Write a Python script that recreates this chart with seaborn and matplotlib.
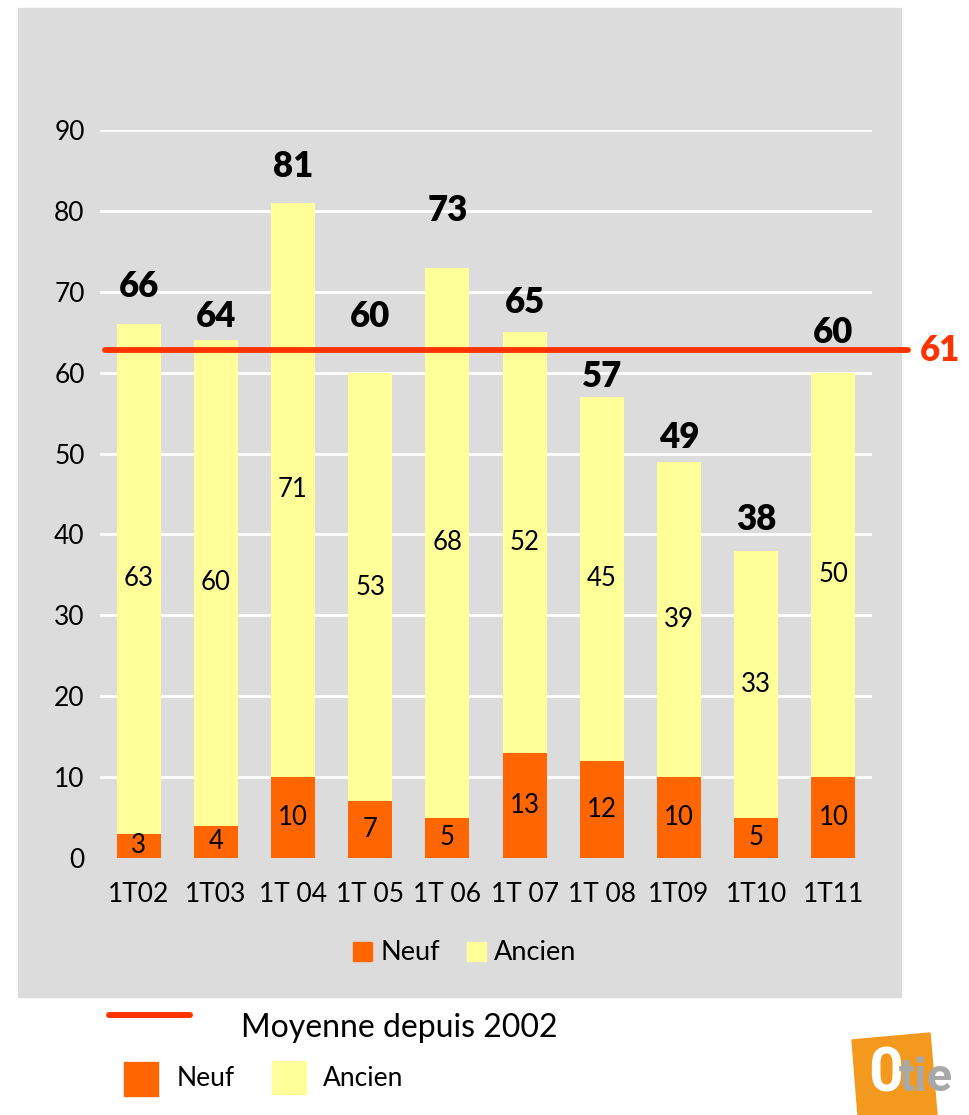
import matplotlib.pyplot as plt
import matplotlib.patches as mpatches
import matplotlib.transforms as mtransforms
from matplotlib.lines import Line2D
import pandas as pd
import seaborn as sns

# donnees
periodes = ["1T02", "1T03", "1T 04", "1T 05", "1T 06", "1T 07", "1T 08", "1T09", "1T10", "1T11"]
neuf = [3, 4, 10, 7, 5, 13, 12, 10, 5, 10]
ancien = [63, 60, 71, 53, 68, 52, 45, 39, 33, 50]
moyenne_label = 61
moyenne_niveau = 62.8  # hauteur du trait tel qu'il est dessine
y_ticks = list(range(0, 100, 10))
# hauteur (en unites de l'axe) ou sont placees les etiquettes des totaux
position_totaux = [70.7, 66.9, 85.5, 67.0, 80.0, 68.7, 59.5, 52.0, 41.9, 65.0]

df = pd.DataFrame({"periode": periodes, "neuf": neuf, "ancien": ancien})
df["total"] = df["neuf"] + df["ancien"]

GRIS = "#dcdcdc"
JAUNE = "#ffff99"
ORANGE = "#ff6600"
ROUGE = "#ff3300"

sns.set_theme(style="white")
plt.rcParams["font.family"] = ["Lato", "DejaVu Sans"]
plt.rcParams["text.color"] = "black"
plt.rcParams["xtick.color"] = "black"
plt.rcParams["ytick.color"] = "black"

W, H = 970, 1115
fig = plt.figure(figsize=(W / 100, H / 100), dpi=100)


def fx(x):
    return x / W


def fy(y):
    return 1 - y / H


# fond gris du cadre
fig.add_artist(mpatches.Rectangle((fx(18), fy(997)), fx(901) - fx(18), fy(8) - fy(997),
                                  transform=fig.transFigure, color=GRIS, zorder=-1))

ax = fig.add_axes([fx(100), fy(858), fx(872) - fx(100), fy(130) - fy(858)])
ax.set_facecolor("none")
ax.set_axisbelow(True)

sns.barplot(data=df, x="periode", y="total", color=JAUNE, saturation=1, width=0.57,
            linewidth=0, ax=ax)
sns.barplot(data=df, x="periode", y="neuf", color=ORANGE, saturation=1, width=0.57,
            linewidth=0, ax=ax)

ax.set_ylim(0, 90)
ax.set_yticks(y_ticks)
ax.yaxis.grid(True, color="white", linewidth=2)
ax.get_ygridlines()[0].set_visible(False)
sns.despine(ax=ax, left=True, bottom=True)
ax.set_xlabel("")
ax.set_ylabel("")
ax.tick_params(axis="y", length=0, pad=11, labelsize=19, labelcolor="black")
ax.tick_params(axis="x", length=0, pad=17, labelsize=19, labelcolor="black")

for i, row in df.iterrows():
    ax.text(i, row["neuf"] / 2, str(row["neuf"]), ha="center", va="center", fontsize=18.5)
    ax.text(i, row["neuf"] + row["ancien"] / 2, str(row["ancien"]), ha="center", va="center", fontsize=18.5)
    ax.text(i, position_totaux[i], str(row["total"]), ha="center", va="center",
            fontsize=25, fontweight="heavy")

# trait de la moyenne
ax.axhline(moyenne_niveau, xmin=5 / 772, xmax=808 / 772, color=ROUGE, linewidth=4.2,
           clip_on=False, zorder=5)
trans = mtransforms.blended_transform_factory(ax.transAxes, ax.transData)
ax.text(1.062, moyenne_niveau, str(moyenne_label), transform=trans, color=ROUGE,
        fontsize=25, fontweight="heavy", ha="left", va="center")

# legende dans le cadre
handles = [mpatches.Patch(color=ORANGE, label="Neuf"), mpatches.Patch(color=JAUNE, label="Ancien")]
fig.legend(handles=handles, loc="center", bbox_to_anchor=(fx(465), fy(953)), ncol=2,
           frameon=False, fontsize=19.5, handlelength=0.7, handleheight=0.7,
           handletextpad=0.3, columnspacing=1.0)

# legende sous le cadre
fig.add_artist(Line2D([fx(109), fx(190)], [fy(1015), fy(1015)], color=ROUGE, linewidth=4.3,
                      transform=fig.transFigure))
fig.text(fx(241), fy(1028), "Moyenne depuis 2002", va="center", fontsize=23)
fig.add_artist(mpatches.Rectangle((fx(124), fy(1096)), fx(158) - fx(124), fy(1062) - fy(1096),
                                  transform=fig.transFigure, color=ORANGE))
fig.add_artist(mpatches.Rectangle((fx(272), fy(1094)), fx(306) - fx(272), fy(1061) - fy(1094),
                                  transform=fig.transFigure, color=JAUNE))
fig.text(fx(177), fy(1078), "Neuf", va="center", fontsize=19)
fig.text(fx(323), fy(1078), "Ancien", va="center", fontsize=19)

# logo
logo = [(852, 1040), (930, 1033), (937, 1115), (858, 1115)]
fig.add_artist(mpatches.Polygon([(fx(x), fy(y)) for x, y in logo], closed=True,
                                transform=fig.transFigure, color="#f39a1e"))
fig.text(fx(886), fy(1074), "0", color="white", fontsize=44, fontweight="bold",
         family="Roboto", ha="center", va="center")
fig.text(fx(899), fy(1078), "tie", color="#a8a8a8", fontsize=34, fontweight="bold",
         family="Roboto", ha="left", va="center")

fig.savefig("out.png", dpi=100)
